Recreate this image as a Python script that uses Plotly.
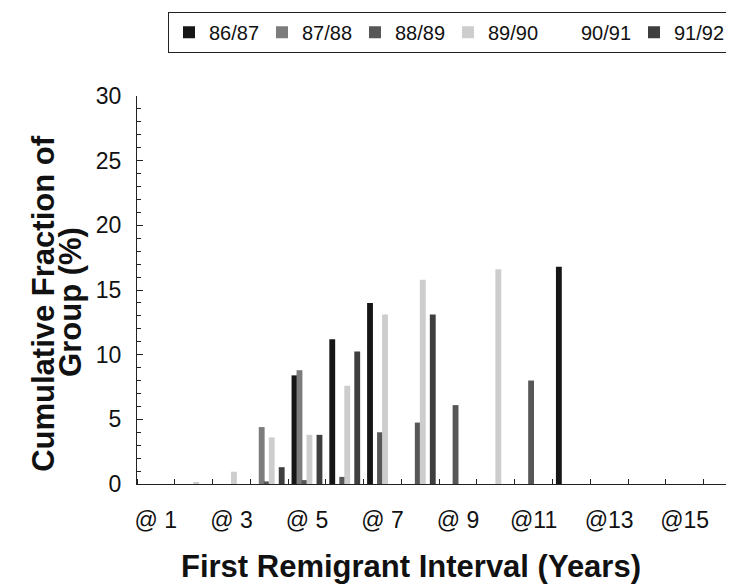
import plotly.graph_objects as go

# ---- data ----
intervals = list(range(1, 17))  # @1 .. @16
tick_positions = [1, 3, 5, 7, 9, 11, 13, 15]
tick_labels = ["@ 1", "@ 3", "@ 5", "@ 7", "@ 9", "@11", "@13", "@15"]

series_names = ["86/87", "87/88", "88/89", "89/90", "90/91", "91/92"]
s_86_87 = [0, 0, 0, 0, 8.4, 11.2, 14.0, 0, 0, 0, 0, 16.8, 0, 0, 0, 0]
s_87_88 = [0, 0, 0, 4.4, 8.8, 0, 0, 0, 0, 0, 0, 0, 0, 0, 0, 0]
s_88_89 = [0, 0, 0, 0.2, 0.3, 0.55, 4.0, 4.75, 6.1, 0, 8.0, 0, 0, 0, 0, 0]
s_89_90 = [0, 0.1, 0.95, 3.6, 3.8, 7.6, 13.1, 15.8, 0, 16.6, 0, 0, 0, 0, 0, 0]
s_90_91 = [0, 0, 0, 0, 0, 0, 0, 0, 0, 0, 0, 0, 0, 0, 0, 0]
s_91_92 = [0, 0, 0, 1.3, 3.8, 10.25, 0, 13.1, 0, 0, 0, 0, 0, 0, 0, 0]
series_values = [s_86_87, s_87_88, s_88_89, s_89_90, s_90_91, s_91_92]

colors = ["#161616", "#7c7c7c", "#575757", "#cdcdcd", "#ffffff", "#3e3e3e"]

FONT = "Liberation Sans, Arial, sans-serif"

# page body has an 8px margin: size the figure so it ends at the window edge
PAGE_OFF = 8
W, H = 734 - PAGE_OFF, 587 - PAGE_OFF
PL, PR, PT, PB = 137, 730, 92, 484   # plot area in window pixels
PW, PH = PR - PL, PB - PT

def px_x(x):
    return (x - PL) / PW

def px_y(y):
    return (PB - y) / PH

fig = go.Figure()
for name, vals, col in zip(series_names, series_values, colors):
    fig.add_trace(go.Bar(
        x=intervals, y=vals, name=name,
        marker=dict(color=col, line=dict(width=0)),
        width=0.155,
    ))

fig.update_layout(
    width=W, height=H,
    margin=dict(l=PL - PAGE_OFF, r=734 - PR, t=PT - PAGE_OFF, b=587 - PB, pad=0),
    paper_bgcolor="white", plot_bgcolor="white",
    barmode="group", bargap=0.206, bargroupgap=0,
    font=dict(family=FONT, color="#111111"),
    showlegend=True,
    legend=dict(
        orientation="h", x=px_x(168), xanchor="left", y=px_y(7), yanchor="top",
        bordercolor="#222222", borderwidth=1, bgcolor="white",
        font=dict(size=20, family=FONT, color="#111111"),
        entrywidth=48, entrywidthmode="pixels", traceorder="normal",
    ),
    xaxis=dict(
        range=[0.5, 16.2], showgrid=False, zeroline=False,
        showline=True, linecolor="#222222", linewidth=1,
        tickmode="array", tickvals=tick_positions, ticktext=tick_labels,
        ticks="", tickfont=dict(size=23, family=FONT, color="#111111"),
        ticklabelstandoff=15,
        minor=dict(tick0=0.5, dtick=1, ticks="inside", ticklen=5,
                   tickcolor="#222222", tickwidth=1, showgrid=False),
    ),
    yaxis=dict(
        range=[0, 30], showgrid=False, zeroline=False,
        showline=True, linecolor="#222222", linewidth=1,
        dtick=5, tick0=0, ticks="inside", ticklen=6, tickcolor="#222222",
        tickfont=dict(size=23, family=FONT, color="#111111"),
        ticklabelstandoff=10,
        minor=dict(dtick=1, ticks="inside", ticklen=4, tickcolor="#222222",
                   showgrid=False),
    ),
    annotations=[
        dict(text="<b>Cumulative Fraction of</b>", xref="paper", yref="paper",
             x=px_x(44), y=px_y(302), xanchor="center", yanchor="middle",
             textangle=-90, showarrow=False,
             font=dict(size=31, family=FONT, color="#111111")),
        dict(text="<b>Group (%)</b>", xref="paper", yref="paper",
             x=px_x(71), y=px_y(300), xanchor="center", yanchor="middle",
             textangle=-90, showarrow=False,
             font=dict(size=31, family=FONT, color="#111111")),
        dict(text="<b>First Remigrant Interval (Years)</b>", xref="paper", yref="paper",
             x=px_x(411), y=px_y(567), xanchor="center", yanchor="middle",
             showarrow=False,
             font=dict(size=31, family=FONT, color="#111111")),
    ],
)

fig.write_html("out.html")
